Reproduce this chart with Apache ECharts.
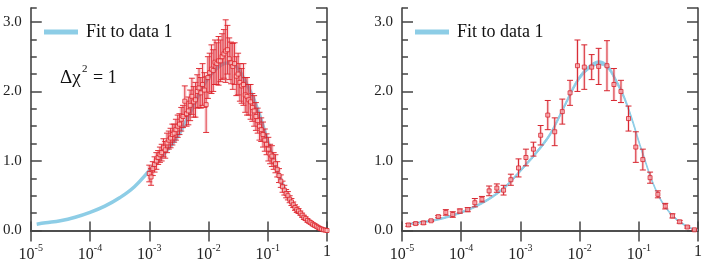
<!DOCTYPE html>
<html><head><meta charset="utf-8">
<script src="https://cdn.jsdelivr.net/npm/echarts@6/dist/echarts.min.js"></script>
<style>html,body{margin:0;padding:0;background:#fff}#c{width:706px;height:263px}</style>
</head><body><div id="c"></div>
<script>
// ---- data ----
const fitX = [1.26e-5,1.78e-5,3.16e-5,5.62e-5,1e-4,1.78e-4,3.16e-4,5.62e-4,1e-3,1.78e-3,3.16e-3,5.62e-3,7.94e-3,1e-2,1.26e-2,1.58e-2,2.0e-2,2.51e-2,3.16e-2,3.98e-2,5.62e-2,7.94e-2,0.1,0.126,0.158,0.2,0.251,0.355,0.501,0.708,1.0];
const fitY = [0.09,0.11,0.14,0.19,0.26,0.35,0.47,0.63,0.86,1.10,1.38,1.80,2.06,2.20,2.30,2.37,2.41,2.40,2.33,2.18,1.92,1.56,1.28,1.02,0.77,0.56,0.40,0.23,0.12,0.045,0.0];
const fitHalfRight = [0.009,0.009,0.01,0.011,0.012,0.013,0.014,0.015,0.017,0.019,0.021,0.023,0.025,0.026,0.027,0.028,0.028,0.028,0.028,0.026,0.024,0.02,0.018,0.016,0.014,0.012,0.011,0.01,0.009,0.008,0.006];

const leftX = [
1.000e-3,1.072e-3,1.148e-3,1.230e-3,1.318e-3,1.413e-3,1.514e-3,1.622e-3,1.738e-3,1.862e-3,1.995e-3,2.138e-3,2.291e-3,2.455e-3,2.630e-3,2.818e-3,3.020e-3,3.236e-3,3.467e-3,3.715e-3,3.981e-3,4.266e-3,4.571e-3,4.898e-3,5.248e-3,5.623e-3,6.026e-3,6.457e-3,6.918e-3,7.413e-3,7.943e-3,8.511e-3,9.120e-3,9.772e-3,
1.047e-2,1.122e-2,1.202e-2,1.288e-2,1.380e-2,1.479e-2,1.585e-2,1.698e-2,1.820e-2,1.950e-2,2.089e-2,2.239e-2,2.399e-2,2.570e-2,2.754e-2,2.951e-2,3.162e-2,3.388e-2,3.631e-2,3.890e-2,4.169e-2,4.467e-2,4.786e-2,5.129e-2,5.495e-2,5.888e-2,6.310e-2,6.761e-2,7.244e-2,7.762e-2,8.318e-2,8.913e-2,9.550e-2,
1.023e-1,1.096e-1,1.175e-1,1.259e-1,1.349e-1,1.445e-1,1.549e-1,1.660e-1,1.778e-1,1.905e-1,2.042e-1,2.188e-1,2.344e-1,2.512e-1,2.692e-1,2.884e-1,3.090e-1,3.311e-1,3.548e-1,3.802e-1,4.074e-1,4.365e-1,4.677e-1,5.012e-1,5.370e-1,5.754e-1,6.166e-1,6.607e-1,7.079e-1,7.586e-1,8.128e-1,8.710e-1,9.333e-1,1.0];
const leftY = [
0.82,0.77,0.89,0.95,1.00,1.05,1.09,1.12,1.19,1.16,1.26,1.30,1.33,1.38,1.40,1.45,1.50,1.53,1.60,1.64,
1.86,1.68,1.72,1.80,1.93,1.85,1.88,2.00,2.05,1.98,2.10,2.02,1.81,2.20,2.27,2.32,2.30,2.42,2.40,2.44,
2.44,2.50,2.54,2.58,2.60,2.47,2.41,2.36,2.40,2.22,2.25,2.13,2.08,2.10,1.95,1.93,1.88,1.85,1.77,1.72,
1.64,1.58,1.50,1.45,1.38,1.30,1.24,1.17,1.10,1.07,1.00,0.96,0.88,0.79,0.71,0.63,0.58,0.53,0.50,0.45,
0.41,0.37,0.33,0.30,0.28,0.25,0.22,0.19,0.17,0.145,0.125,0.11,0.09,0.075,0.06,0.045,0.03,0.02,0.01,0.005,0.0];
const leftErr = [
0.12,0.12,0.10,0.11,0.12,0.10,0.11,0.12,0.13,0.12,0.14,0.13,0.14,0.15,0.13,0.15,0.16,0.15,0.17,0.16,
0.22,0.18,0.20,0.22,0.26,0.22,0.25,0.24,0.28,0.22,0.30,0.25,0.40,0.30,0.28,0.35,0.30,0.32,0.30,0.35,
0.30,0.33,0.35,0.45,0.35,0.30,0.30,0.33,0.30,0.28,0.30,0.27,0.25,0.30,0.25,0.27,0.22,0.25,0.20,0.22,
0.20,0.18,0.20,0.17,0.18,0.16,0.15,0.17,0.14,0.15,0.12,0.13,0.11,0.10,0.09,0.08,0.07,0.06,0.06,0.05,
0.05,0.04,0.04,0.04,0.035,0.03,0.03,0.03,0.025,0.025,0.02,0.02,0.02,0.02,0.015,0.015,0.015,0.01,0.01,0.01,0.01];

const rightX = [1.28e-5,1.7e-5,2.3e-5,3.1e-5,4.1e-5,5.5e-5,7.2e-5,9.5e-5,1.29e-4,1.7e-4,2.24e-4,2.96e-4,4.0e-4,5.2e-4,6.9e-4,9.3e-4,1.24e-3,1.66e-3,2.2e-3,2.9e-3,3.8e-3,5.1e-3,6.9e-3,9.2e-3,1.2e-2,1.6e-2,2.1e-2,2.9e-2,3.8e-2,5.0e-2,6.7e-2,8.9e-2,0.117,0.155,0.21,0.28,0.37,0.49,0.66,0.87];
const rightY = [0.08,0.10,0.11,0.14,0.20,0.26,0.23,0.28,0.30,0.40,0.45,0.57,0.61,0.58,0.73,0.90,1.05,1.17,1.37,1.66,1.42,1.71,1.98,2.37,2.35,2.35,2.36,2.37,2.10,2.00,1.61,1.20,1.02,0.76,0.52,0.35,0.21,0.125,0.05,0.01];
const rightErr = [0.02,0.015,0.02,0.01,0.015,0.04,0.04,0.03,0.03,0.06,0.04,0.07,0.06,0.07,0.08,0.13,0.12,0.10,0.14,0.21,0.20,0.18,0.18,0.37,0.32,0.18,0.26,0.36,0.23,0.16,0.18,0.22,0.15,0.08,0.05,0.04,0.03,0.02,0.015,0.01];

const xTickLabels = ['{b|10}{s|-5}','{b|10}{s|-4}','{b|10}{s|-3}','{b|10}{s|-2}','{b|10}{s|-1}','{b|1}'];
const yTickLabels = ['0.0','1.0','2.0','3.0'];
const legendName = 'Fit to data 1';

// ---- chart ----
const SERIF = "'Liberation Serif', 'Times New Roman', serif";
const AX = '#444';
const FIT = '#8dcde6';
const chart = echarts.init(document.getElementById('c'), null, {renderer:'canvas'});

const grids = [
  {left:30, top:8, width:297, height:223},
  {left:402, top:8, width:296, height:223}
];
const xAxes = [], yAxes = [];
grids.forEach((g, gi) => {
  xAxes.push({type:'log', logBase:10, min:1e-5, max:1, gridIndex:gi, position:'bottom',
    axisLine:{show:true, lineStyle:{color:AX, width:1.6}},
    axisTick:{show:true, inside:true, length:9, lineStyle:{color:AX, width:1.5}},
    splitLine:{show:false}, minorTick:{show:false},
    axisLabel:{show:true, margin:13, color:'#222',
      formatter: v => xTickLabels[Math.round(Math.log10(v)) + 5] || '',
      rich:{b:{fontFamily:SERIF, fontSize:16, color:'#222'},
            s:{fontFamily:SERIF, fontSize:10, color:'#222', padding:[0,0,13,0]}}}
  });
  xAxes.push({type:'log', logBase:10, min:1e-5, max:1, gridIndex:gi, position:'top',
    axisLine:{show:true, lineStyle:{color:AX, width:1.6}},
    axisTick:{show:true, inside:true, length:11, lineStyle:{color:AX, width:1.5}},
    splitLine:{show:false}, axisLabel:{show:false}
  });
  const yBase = {type:'value', min:0, max:3.2, gridIndex:gi, splitLine:{show:false}};
  yAxes.push(Object.assign({}, yBase, {position:'left', interval:1,
    axisLine:{show:true, lineStyle:{color:AX, width:1.6}},
    axisTick:{show:true, inside:true, length:11, lineStyle:{color:AX, width:1.5}},
    axisLabel:{show:true, margin:9, showMaxLabel:false, fontFamily:SERIF, fontSize:15, color:'#222',
      formatter: v => (Number.isInteger(v) && yTickLabels[v]) ? yTickLabels[v] : ''}
  }));
  yAxes.push(Object.assign({}, yBase, {position:'left', interval:0.25,
    axisLine:{show:false},
    axisTick:{show:true, inside:true, length:6, lineStyle:{color:AX, width:1.5}},
    axisLabel:{show:false}
  }));
  yAxes.push(Object.assign({}, yBase, {position:'right', interval:1,
    axisLine:{show:true, lineStyle:{color:AX, width:1.6}},
    axisTick:{show:true, inside:true, length:11, lineStyle:{color:AX, width:1.5}},
    axisLabel:{show:false}
  }));
  yAxes.push(Object.assign({}, yBase, {position:'right', interval:0.25,
    axisLine:{show:false},
    axisTick:{show:true, inside:true, length:5, lineStyle:{color:AX, width:1.5}},
    axisLabel:{show:false}
  }));
});

function errRender(capW, color, haloW, haloColor) {
  return function (params, api) {
    const x = api.value(0), y = api.value(1), e = api.value(2);
    const pT = api.coord([x, y + e]);
    const pB = api.coord([x, y - e]);
    const cx = pT[0];
    return {type:'group', children:[
      {type:'rect', shape:{x:cx - haloW/2, y:pT[1], width:haloW, height:pB[1]-pT[1]}, style:{fill:haloColor}},
      {type:'line', shape:{x1:cx, y1:pT[1], x2:cx, y2:pB[1]}, style:{stroke:color, lineWidth:1}},
      {type:'line', shape:{x1:cx-capW, y1:pT[1], x2:cx+capW, y2:pT[1]}, style:{stroke:color, lineWidth:1}},
      {type:'line', shape:{x1:cx-capW, y1:pB[1], x2:cx+capW, y2:pB[1]}, style:{stroke:color, lineWidth:1}}
    ]};
  };
}

// band of the fit: polygon through upper edge then lower edge (right panel)
function bandRender(params, api) {
  const up = fitX.map((x, i) => api.coord([x, fitY[i] + fitHalfRight[i]]));
  const lo = fitX.map((x, i) => api.coord([x, Math.max(0, fitY[i] - fitHalfRight[i])])).reverse();
  return {type:'group', children:[
    {type:'polyline', shape:{points:up, smooth:0.3}, style:{stroke:FIT, lineWidth:1, fill:null}},
    {type:'polyline', shape:{points:lo, smooth:0.3}, style:{stroke:FIT, lineWidth:1, fill:null}},
    {type:'polygon', shape:{points:up.concat(lo), smooth:0.3}, style:{fill:FIT}}
  ]};
}

const fitPts = fitX.map((x, i) => [x, fitY[i]]);

const series = [
  // left panel
  {type:'line', name:legendName, xAxisIndex:0, yAxisIndex:0, data:fitPts, smooth:0.4, symbol:'none',
   lineStyle:{color:FIT, width:3.5}, itemStyle:{color:FIT}, z:1},
  {type:'custom', name:'left-err', xAxisIndex:0, yAxisIndex:0, clip:true, z:3,
   renderItem: errRender(3, 'rgba(222,32,40,0.9)', 4, 'rgba(235,110,125,0.20)'),
   encode:{x:0, y:1}, data:leftX.map((x, i) => [x, leftY[i], leftErr[i]])},
  {type:'scatter', name:'left-pts', xAxisIndex:0, yAxisIndex:0, symbol:'rect', symbolSize:4, z:4,
   itemStyle:{color:'rgba(255,205,205,0.9)', borderColor:'#dd2028', borderWidth:1},
   data:leftX.map((x, i) => [x, leftY[i]])},
  // right panel
  {type:'custom', name:legendName, xAxisIndex:2, yAxisIndex:4, clip:true, z:1,
   itemStyle:{color:FIT}, renderItem: bandRender, encode:{x:0, y:1}, data:[[fitX[0], fitY[0]]]},
  {type:'custom', name:'right-err', xAxisIndex:2, yAxisIndex:4, clip:true, z:3,
   renderItem: errRender(3, '#d7262f', 3, 'rgba(235,120,130,0.25)'),
   encode:{x:0, y:1}, data:rightX.map((x, i) => [x, rightY[i], rightErr[i]])},
  {type:'scatter', name:'right-pts', xAxisIndex:2, yAxisIndex:4, symbol:'rect', symbolSize:4, z:4,
   itemStyle:{color:'rgba(250,170,175,1)', borderColor:'#d7262f', borderWidth:1},
   data:rightX.map((x, i) => [x, rightY[i]])}
];

const legendCommon = {orient:'horizontal', padding:0, itemWidth:34, itemHeight:5, selectedMode:false,
  textStyle:{fontFamily:SERIF, fontSize:18, color:'#111', padding:[0,0,0,3]},
  data:[{name:legendName, icon:'rect', itemStyle:{color:FIT}}]};

chart.setOption({
  animation:false,
  backgroundColor:'#fff',
  grid:grids,
  xAxis:xAxes,
  yAxis:yAxes,
  legend:[
    Object.assign({}, legendCommon, {left:44, top:23}),
    Object.assign({}, legendCommon, {left:415, top:23})
  ],
  graphic:[
    {type:'text', left:60, top:69, style:{text:'Δχ', font:"19px 'Liberation Serif', serif", fill:'#111'}},
    {type:'text', left:82, top:64, style:{text:'2', font:"11px 'Liberation Serif', serif", fill:'#111'}},
    {type:'text', left:93, top:69, style:{text:'= 1', font:"18px 'Liberation Serif', serif", fill:'#111'}}
  ],
  series:series
});
</script>
</body></html>
